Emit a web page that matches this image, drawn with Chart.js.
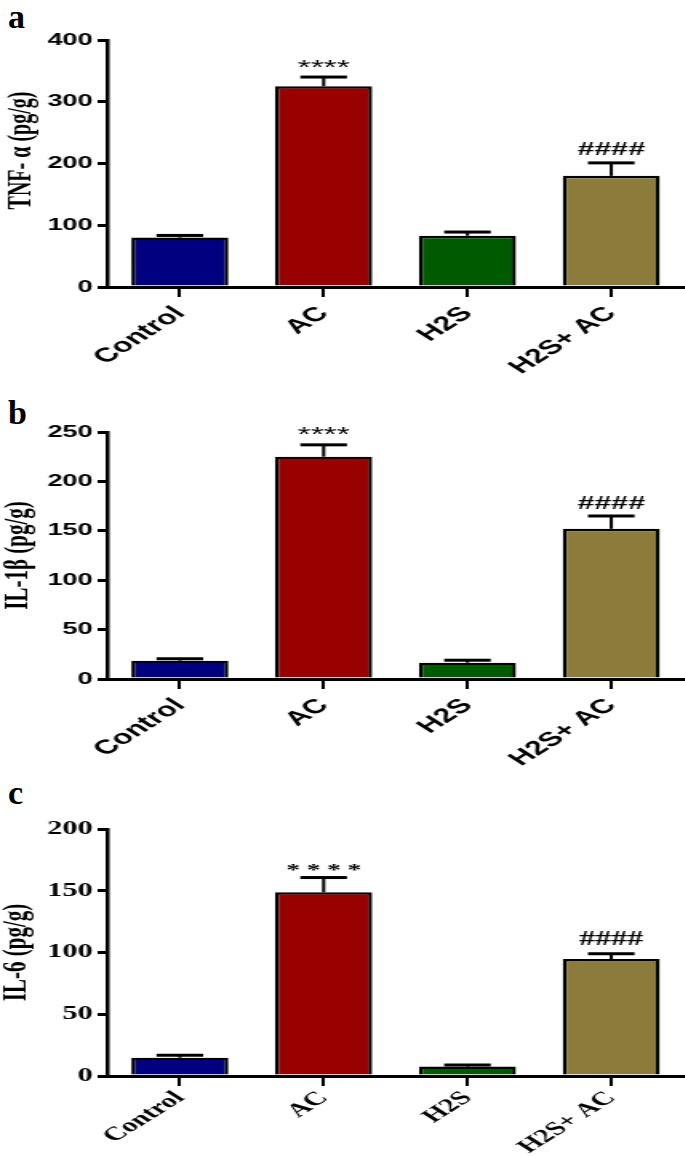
<!DOCTYPE html>
<html>
<head>
<meta charset="utf-8">
<script src="https://cdn.jsdelivr.net/npm/chart.js@4.4.1/dist/chart.umd.min.js"></script>
<style>
  body { margin: 0; background: #fff; width: 685px; height: 1156px; overflow: hidden; position: relative; }
  .panel { position: absolute; left: 0; transform: scaleX(1.6); transform-origin: 0 0; }
  .letter { position: absolute; left: 8px; font: bold 34px "Liberation Serif", serif; line-height: 34px; }
</style>
</head>
<body>
<div class="letter" style="top:0">a</div>
<div class="letter" style="top:396px">b</div>
<div class="letter" style="top:776px">c</div>

<div class="panel" style="top:0"><canvas id="tnf" width="428" height="385"></canvas></div>
<div class="panel" style="top:385px"><canvas id="il1b" width="428" height="385"></canvas></div>
<div class="panel" style="top:770px"><canvas id="il6" width="428" height="386"></canvas></div>

<script>
const groups = ['Control', 'AC', 'H2S', 'H2S+ AC'];
const barColors = ['#000080', '#990000', '#005a00', '#8c7c3c'];
const marks = ['', '****', '', '####'];

// TNF-a (pg/g)
const tnfMean = [80, 325, 83, 180];
const tnfSem = [3.5, 15, 6, 21];
// IL-1b (pg/g)
const il1bMean = [18.5, 225, 16.5, 152];
const il1bSem = [2, 12, 2.5, 13];
// IL-6 (pg/g)
const il6Mean = [14.8, 148.7, 7.6, 94.7];
const il6Sem = [2, 12, 1.3, 4.3];

const sans = 'Liberation Sans';
const serif = 'Liberation Serif';

// error bars (up only), significance marks and the y title
const extras = {
  id: 'extras',
  afterDatasetsDraw(chart, args, opts) {
    const ctx = chart.ctx;
    const y = chart.scales.y;
    const meta = chart.getDatasetMeta(0);
    ctx.save();
    ctx.strokeStyle = '#000';
    ctx.fillStyle = '#000';
    meta.data.forEach((bar, i) => {
      const top = y.getPixelForValue(opts.mean[i] + opts.sem[i]);
      const half = bar.width * 0.24;
      ctx.lineWidth = 2;
      ctx.beginPath();
      ctx.moveTo(bar.x, bar.y);
      ctx.lineTo(bar.x, top);
      ctx.stroke();
      ctx.lineWidth = 3;
      ctx.beginPath();
      ctx.moveTo(bar.x - half, top);
      ctx.lineTo(bar.x + half, top);
      ctx.stroke();
      if (marks[i]) {
        const m = marks[i] === '****' ? opts.star : opts.hash;
        ctx.font = m.font;
        ctx.textAlign = 'center';
        ctx.textBaseline = 'alphabetic';
        ctx.fillText(m.text || marks[i], bar.x, top - m.gap);
      }
    });
    ctx.restore();
  },
  afterDraw(chart, args, opts) {
    const ctx = chart.ctx;
    const area = chart.chartArea;
    ctx.save();
    ctx.fillStyle = '#000';
    ctx.font = 'bold ' + opts.titleSize + 'px ' + serif;
    ctx.translate(opts.titleX, (area.top + area.bottom) / 2 + opts.titleShift);
    ctx.rotate(-Math.PI / 2);
    ctx.textAlign = 'center';
    ctx.textBaseline = 'middle';
    ctx.fillText(opts.title, 0, 0);
    ctx.restore();
  }
};

function makePanel(id, mean, sem, cfg) {
  return new Chart(document.getElementById(id), {
    type: 'bar',
    data: {
      labels: groups,
      datasets: [{
        data: mean,
        backgroundColor: barColors,
        borderColor: '#000',
        borderWidth: 2.4,
        borderSkipped: 'start',
        barPercentage: 0.675,
        categoryPercentage: 1
      }]
    },
    plugins: [extras],
    options: {
      responsive: false,
      animation: false,
      layout: { padding: { top: cfg.top, right: 1, left: 0, bottom: 0 } },
      plugins: {
        legend: { display: false },
        tooltip: { enabled: false },
        extras: {
          mean: mean, sem: sem, title: cfg.title, titleSize: cfg.titleSize,
          titleX: cfg.titleX, titleShift: cfg.titleShift,
          star: cfg.star, hash: cfg.hash
        }
      },
      scales: {
        x: {
          offset: true,
          grid: { offset: false, drawOnChartArea: false, tickLength: 10, lineWidth: 2, color: '#000' },
          border: { color: '#000', width: 3 },
          ticks: {
            autoSkip: false, minRotation: 45, maxRotation: 45, padding: cfg.xPad,
            color: '#000', font: cfg.xFont
          },
          afterFit: s => { s.height = cfg.xHeight; }
        },
        y: {
          min: 0,
          max: cfg.max,
          ticks: { stepSize: cfg.step, padding: 3, color: '#000', font: cfg.yFont },
          grid: { drawOnChartArea: false, tickLength: 6.5, lineWidth: 3, color: '#000' },
          border: { color: '#000', width: 2.5 },
          afterFit: s => { s.width = 67.5; }
        }
      }
    }
  });
}

const sansBold17 = { family: sans, weight: 'bold', size: 17 };
const sansBold20 = { family: sans, weight: 'bold', size: 20 };

makePanel('tnf', tnfMean, tnfSem, {
  top: 40, xHeight: 98, max: 400, step: 100, xPad: 5,
  title: 'TNF- α (pg/g)', titleSize: 20, titleX: 14, titleShift: -13,
  yFont: sansBold17, xFont: sansBold20,
  star: { font: '21px ' + sans, gap: 3 },
  hash: { font: 'bold 19px ' + sans, gap: 8 }
});

makePanel('il1b', il1bMean, il1bSem, {
  top: 47, xHeight: 91, max: 250, step: 50, xPad: 5,
  title: 'IL-1β (pg/g)', titleSize: 21, titleX: 12, titleShift: 0,
  yFont: sansBold17, xFont: sansBold20,
  star: { font: '21px ' + sans, gap: 3.5 },
  hash: { font: 'bold 19px ' + sans, gap: 7 }
});

makePanel('il6', il6Mean, il6Sem, {
  top: 59, xHeight: 80, max: 200, step: 50, xPad: 1,
  title: 'IL-6 (pg/g)', titleSize: 21, titleX: 11, titleShift: 0,
  yFont: { family: serif, weight: 'bold', size: 19 },
  xFont: { family: serif, weight: 'bold', size: 19 },
  star: { font: 'bold 17px ' + serif, gap: 3, text: '* * * *' },
  hash: { font: 'bold 20px ' + serif, gap: 9 }
});
</script>
</body>
</html>
